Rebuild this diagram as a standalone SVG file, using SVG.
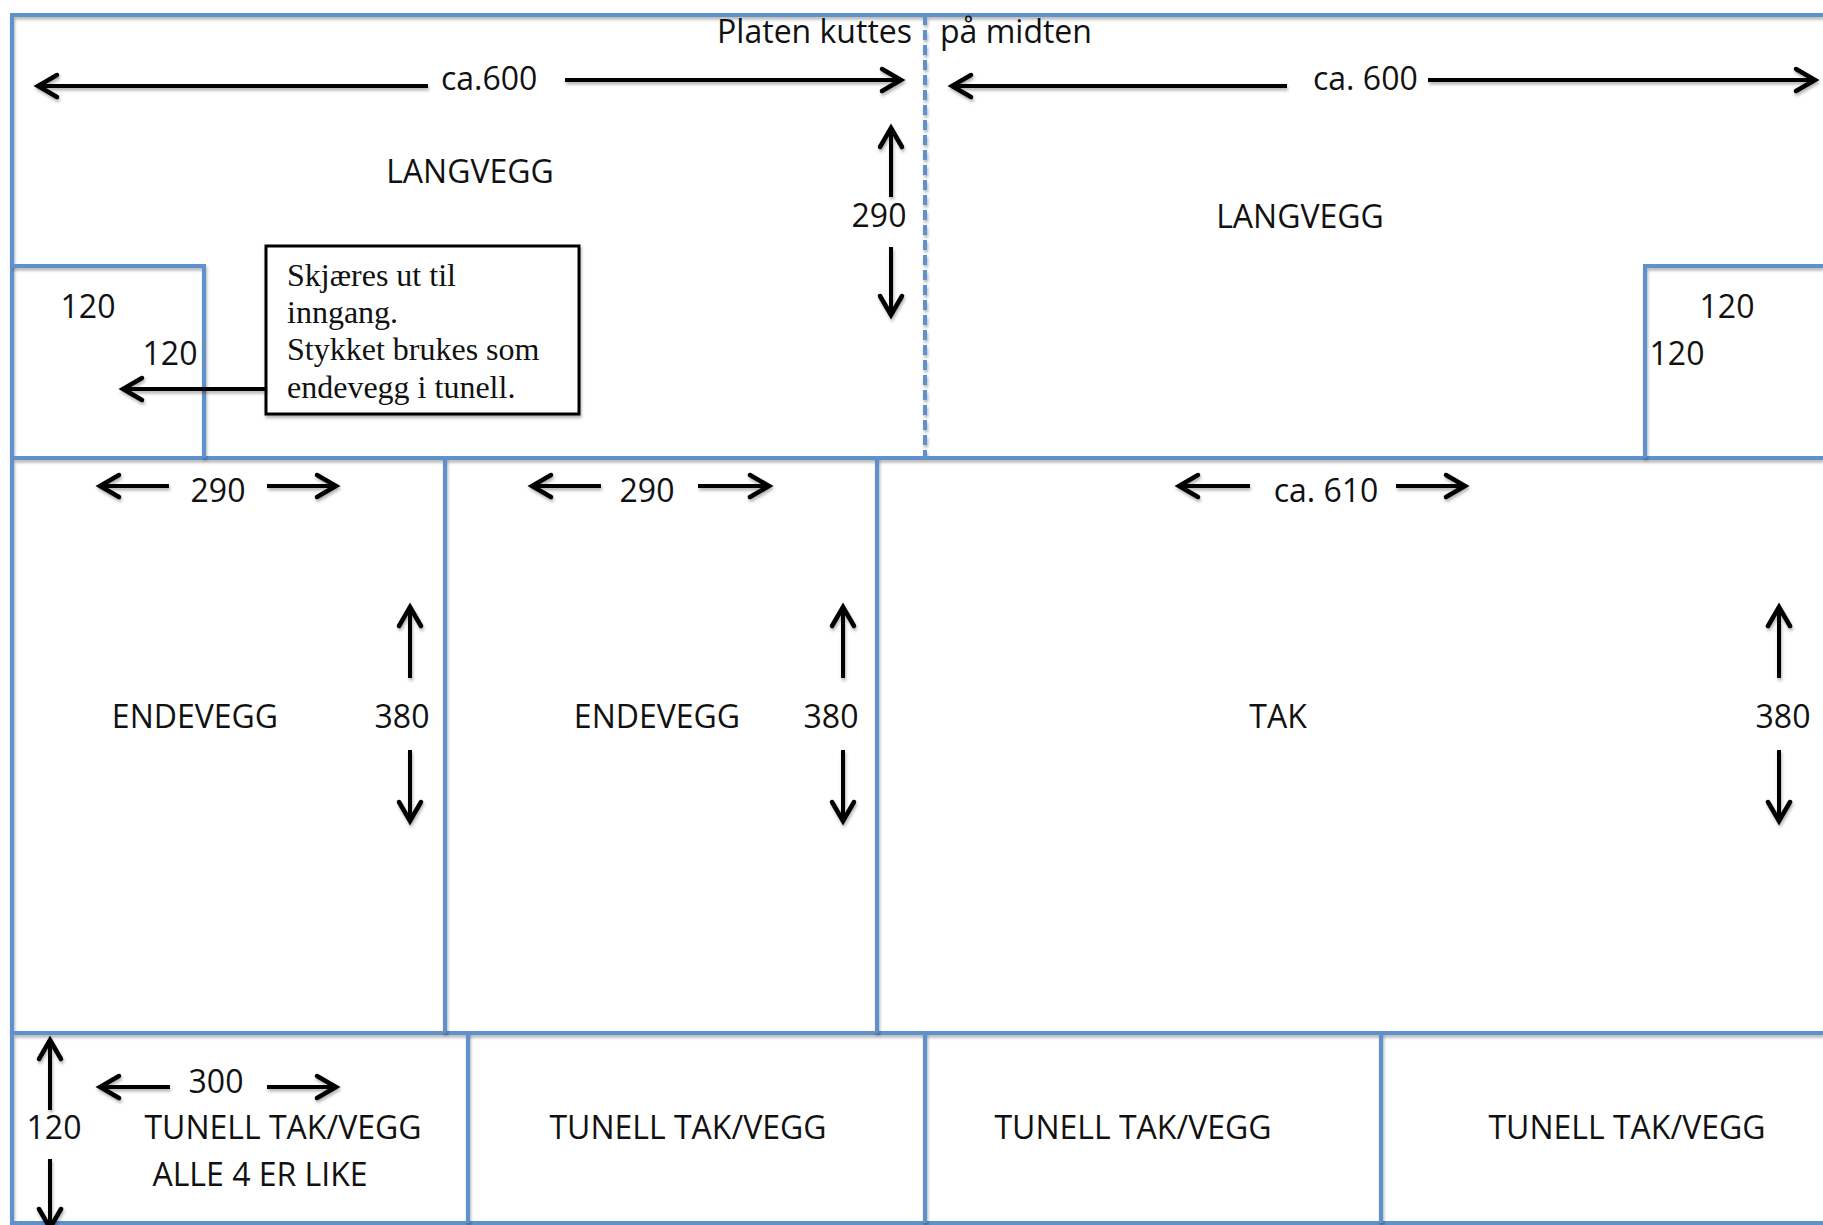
<svg xmlns="http://www.w3.org/2000/svg" width="1823" height="1225" viewBox="0 0 1823 1225">
<defs>
<filter id="sh" filterUnits="userSpaceOnUse" x="0" y="0" width="1823" height="1225">
<feDropShadow dx="1" dy="2.5" stdDeviation="1.5" flood-color="#000" flood-opacity="0.3"/>
</filter>
<marker id="ah" markerUnits="userSpaceOnUse" markerWidth="30" markerHeight="30" viewBox="-24 -15 30 30" refX="0" refY="0" orient="auto">
<path d="M-19,-11 L0,0 L-19,11" fill="none" stroke="#000" stroke-width="4.5" stroke-linecap="round" stroke-linejoin="miter"/>
</marker>
<style>
.edge{fill:none;stroke:#5f92cd;stroke-width:4;}
.dash{fill:none;stroke:#5f92cd;stroke-width:4;stroke-dasharray:10 5;}
.arr{fill:none;stroke:#000;stroke-width:4;marker-end:url(#ah);}
.t{font-family:"Open Sans","Noto Sans","Liberation Sans",sans-serif;font-size:32px;fill:#111;}
.m{text-anchor:middle;}
.s{font-family:"Liberation Serif","Times New Roman",serif;font-size:32px;fill:#111;}
</style>
</defs>
<rect width="1823" height="1225" fill="#fff"/>

<g id="sheet" filter="url(#sh)">
<path class="edge" d="M1823,15 H12 V1223 H1823"/>
<path class="edge" d="M12,458 H1823"/>
<path class="edge" d="M12,1033 H1823"/>
<path class="dash" d="M925,15 V458"/>
</g>

<g id="langvegg-left">
<text class="t" x="912" y="43" text-anchor="end">Platen kuttes</text>
<text class="t m" x="470" y="183">LANGVEGG</text>
<text class="t m" x="879" y="227">290</text>
</g>

<g id="inngang-left">
<path class="edge" d="M12,266 H204 V458" filter="url(#sh)"/>
<text class="t m" x="88" y="318">120</text>
<text class="t m" x="170" y="365">120</text>
</g>

<g id="langvegg-right">
<text class="t" x="940" y="43">på midten</text>
<text class="t m" x="1300" y="228">LANGVEGG</text>
</g>

<g id="inngang-right">
<path class="edge" d="M1823,266 H1645 V458" filter="url(#sh)"/>
<text class="t m" x="1727" y="318">120</text>
<text class="t m" x="1677" y="365">120</text>
</g>

<g id="callout">
<rect x="266" y="246" width="313" height="168" fill="#fff" stroke="#000" stroke-width="3" filter="url(#sh)"/>
<text class="s" x="287" y="286">Skjæres ut til</text>
<text class="s" x="287" y="323">inngang.</text>
<text class="s" x="287" y="360">Stykket brukes som</text>
<text class="s" x="287" y="398">endevegg i tunell.</text>
</g>

<g id="endevegg-1">
<text class="t m" x="195" y="728">ENDEVEGG</text>
<text class="t m" x="218" y="502">290</text>
<text class="t m" x="402" y="728">380</text>
</g>

<g id="endevegg-2">
<path class="edge" d="M445,458 V1033" filter="url(#sh)"/>
<text class="t m" x="657" y="728">ENDEVEGG</text>
<text class="t m" x="647" y="502">290</text>
<text class="t m" x="831" y="728">380</text>
</g>

<g id="tak">
<path class="edge" d="M877,458 V1033" filter="url(#sh)"/>
<text class="t m" x="1278" y="728">TAK</text>
<text class="t m" x="1326" y="502">ca. 610</text>
<text class="t m" x="1783" y="728">380</text>
</g>

<g id="tunell-1">
<text class="t m" x="54" y="1139">120</text>
<text class="t m" x="216" y="1093">300</text>
<text class="t m" x="283" y="1139">TUNELL TAK/VEGG</text>
<text class="t m" x="260" y="1186">ALLE 4 ER LIKE</text>
</g>

<g id="tunell-2">
<path class="edge" d="M468,1033 V1223" filter="url(#sh)"/>
<text class="t m" x="688" y="1139">TUNELL TAK/VEGG</text>
</g>

<g id="tunell-3">
<path class="edge" d="M925,1033 V1223" filter="url(#sh)"/>
<text class="t m" x="1133" y="1139">TUNELL TAK/VEGG</text>
</g>

<g id="tunell-4">
<path class="edge" d="M1381,1033 V1223" filter="url(#sh)"/>
<text class="t m" x="1627" y="1139">TUNELL TAK/VEGG</text>
</g>

<g id="dimension-labels">
<text class="t" x="441" y="90">ca.600</text>
<text class="t" x="1313" y="90">ca. 600</text>
</g>

<g id="connectors" filter="url(#sh)">
<line class="arr" x1="428" y1="86" x2="38" y2="86"/>
<line class="arr" x1="565" y1="80" x2="901" y2="80"/>
<line class="arr" x1="1287" y1="86" x2="952" y2="86"/>
<line class="arr" x1="1428" y1="80" x2="1815" y2="80"/>
<line class="arr" x1="891" y1="197" x2="891" y2="128"/>
<line class="arr" x1="891" y1="247" x2="891" y2="315"/>
<line class="arr" x1="266" y1="389" x2="123" y2="389"/>
<line class="arr" x1="169" y1="486" x2="100" y2="486"/>
<line class="arr" x1="267" y1="486" x2="336" y2="486"/>
<line class="arr" x1="601" y1="486" x2="532" y2="486"/>
<line class="arr" x1="698" y1="486" x2="769" y2="486"/>
<line class="arr" x1="1250" y1="486" x2="1179" y2="486"/>
<line class="arr" x1="1396" y1="486" x2="1465" y2="486"/>
<line class="arr" x1="410" y1="678" x2="410" y2="607"/>
<line class="arr" x1="410" y1="750" x2="410" y2="821"/>
<line class="arr" x1="843" y1="678" x2="843" y2="607"/>
<line class="arr" x1="843" y1="750" x2="843" y2="821"/>
<line class="arr" x1="1779" y1="678" x2="1779" y2="607"/>
<line class="arr" x1="1779" y1="750" x2="1779" y2="821"/>
<line class="arr" x1="170" y1="1087" x2="100" y2="1087"/>
<line class="arr" x1="267" y1="1087" x2="336" y2="1087"/>
<line class="arr" x1="50" y1="1110" x2="50" y2="1040"/>
<line class="arr" x1="50" y1="1159" x2="50" y2="1228"/>
</g>
</svg>
